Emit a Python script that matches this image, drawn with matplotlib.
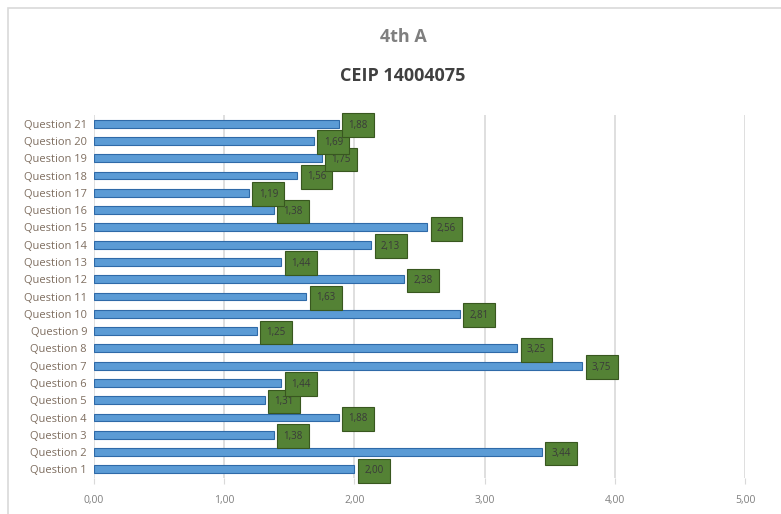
import matplotlib.pyplot as plt
from matplotlib.patches import Rectangle

questions = [f"Question {i}" for i in range(1, 22)]
scores = [2.00, 3.44, 1.38, 1.88, 1.31, 1.44, 3.75, 3.25, 1.25, 2.81, 1.63,
          2.38, 1.44, 2.13, 2.56, 1.38, 1.19, 1.56, 1.75, 1.69, 1.88]
x_ticks = [0, 1, 2, 3, 4, 5]

plt.rcParams['font.family'] = ['Open Sans', 'DejaVu Sans']

fig = plt.figure(figsize=(7.81, 5.14), dpi=100)
# light chart-area border
fig.patches.append(Rectangle((8 / 781, -0.1), 1.2, 1 - 8 / 514 + 0.1,
                             transform=fig.transFigure, fill=False,
                             edgecolor='#d9d9d9', linewidth=1.2))

ax = fig.add_axes([94 / 781, 1 - 478 / 514, 651 / 781, 363 / 514])
pos = list(range(len(questions)))
ax.barh(pos, scores, height=0.45, color='#5b9bd5', edgecolor='#2f6aa8',
        linewidth=0.8, zorder=3)

for p, v in zip(pos, scores):
    ax.annotate(f"{v:.2f}".replace('.', ','), xy=(v, p), xytext=(7, -1),
                textcoords='offset points', ha='left', va='center',
                fontsize=7, color='#3a3a3a', zorder=4,
                bbox=dict(boxstyle='square,pad=0.65', facecolor='#548235',
                          edgecolor='#38571f', linewidth=0.8))

ax.set_xlim(0, 5)
ax.set_ylim(-0.5, len(questions) - 0.5)
ax.set_xticks(x_ticks)
ax.set_xticklabels([f"{t:.2f}".replace('.', ',') for t in x_ticks])
ax.set_yticks(pos)
ax.set_yticklabels(questions)
ax.grid(axis='x', color='#d9d9d9', linewidth=1.2, zorder=0)
for s in ax.spines.values():
    s.set_visible(False)
ax.tick_params(axis='y', length=0, pad=5, labelsize=8, labelcolor='#7f6e60')
ax.tick_params(axis='x', length=4, color='#d9d9d9', pad=8, labelsize=7.5,
               labelcolor='#7f7f7f')

fig.text(0.516, 1 - 37 / 514, "4th A", ha='center', va='center',
         fontsize=13, color='#7f7f7f', fontweight='bold')
fig.text(0.516, 1 - 76 / 514, "CEIP 14004075", ha='center', va='center',
         fontsize=13, color='#404040', fontweight='bold')

fig.savefig("out.png", dpi=100)
